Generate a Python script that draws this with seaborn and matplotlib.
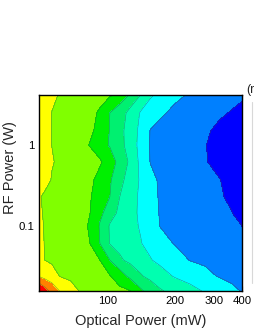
import numpy as np
import matplotlib
matplotlib.use("Agg")
import matplotlib.pyplot as plt
import seaborn as sns
from matplotlib.lines import Line2D
from matplotlib.ticker import FixedLocator, FixedFormatter, NullFormatter

# ---- data ----
optical_power_mw = [49, 52, 56, 61, 68, 75, 83, 92, 102, 113, 126, 140, 155, 171,
                    200, 234, 273, 318, 360, 400]
rf_power_w = [4.15, 2.5, 1.5, 1.0, 0.62, 0.37, 0.23, 0.145, 0.1, 0.061, 0.038, 0.024, 0.0158]

row_415 = [2.50, 2.67, 2.87, 3.05, 3.22, 3.38, 3.54, 3.70, 3.87, 4.17, 5.15, 6.00, 6.85, 7.28, 7.78, 8.10, 8.27, 8.44, 8.58, 8.70]
row_250 = [2.40, 2.68, 3.01, 3.18, 3.39, 3.60, 3.81, 4.09, 5.00, 5.60, 6.28, 7.07, 7.47, 7.87, 8.18, 8.40, 8.62, 8.85, 9.07, 9.40]
row_150 = [2.40, 2.71, 3.03, 3.20, 3.42, 3.64, 3.85, 4.26, 5.05, 5.73, 6.45, 7.25, 8.03, 8.18, 8.42, 8.66, 8.89, 9.19, 9.47, 9.70]
row_100 = [2.40, 2.68, 3.01, 3.22, 3.49, 3.75, 4.04, 4.56, 5.10, 5.70, 6.43, 7.33, 8.06, 8.22, 8.47, 8.72, 8.97, 9.30, 9.57, 9.80]
row_062 = [2.40, 2.65, 2.95, 3.13, 3.32, 3.51, 3.70, 3.89, 4.44, 5.38, 6.19, 7.25, 8.03, 8.20, 8.44, 8.69, 8.94, 9.28, 9.56, 9.80]
row_037 = [2.50, 2.77, 3.04, 3.21, 3.43, 3.64, 3.86, 4.22, 4.89, 5.72, 6.45, 7.11, 7.78, 8.10, 8.32, 8.54, 8.76, 8.98, 9.30, 9.60]
row_023 = [2.95, 3.09, 3.23, 3.38, 3.56, 3.75, 3.94, 4.40, 5.00, 6.00, 6.60, 7.18, 7.73, 8.07, 8.28, 8.49, 8.70, 8.91, 9.17, 9.50]
row_0145 = [2.90, 3.07, 3.21, 3.37, 3.58, 3.78, 3.99, 4.74, 5.57, 6.23, 6.69, 7.17, 7.67, 8.04, 8.24, 8.43, 8.63, 8.83, 8.98, 9.30]
row_010 = [2.85, 3.04, 3.19, 3.36, 3.58, 3.80, 4.07, 5.09, 6.09, 6.41, 6.73, 7.08, 7.56, 8.01, 8.19, 8.37, 8.55, 8.73, 8.88, 9.00]
row_0061 = [2.85, 3.02, 3.17, 3.34, 3.56, 3.78, 4.00, 5.00, 6.05, 6.35, 6.65, 6.95, 7.31, 7.69, 8.05, 8.18, 8.30, 8.42, 8.52, 8.60]
row_0038 = [2.80, 3.00, 3.13, 3.27, 3.45, 3.64, 3.82, 4.00, 5.00, 5.85, 6.28, 6.61, 6.94, 7.24, 7.67, 8.03, 8.17, 8.30, 8.41, 8.50]
row_0024 = [2.05, 2.35, 2.69, 3.03, 3.21, 3.39, 3.58, 3.76, 3.94, 4.53, 5.25, 5.89, 6.28, 6.61, 7.08, 7.42, 7.77, 8.07, 8.25, 8.40]
row_00158 = [0.00, 0.60, 1.30, 2.06, 2.62, 3.06, 3.24, 3.42, 3.61, 3.79, 3.97, 4.83, 5.40, 5.89, 6.32, 6.70, 7.09, 7.47, 7.79, 8.05]

level_values = [0, 1, 2, 3, 4, 5, 6, 7, 8, 9, 10]
band_colors = ["#FF0000", "#FF8000", "#FFFF00", "#80FF00", "#00F000",
               "#00F070", "#00FFB0", "#00FFFF", "#0080FF", "#0000FF"]

x_ticks = [100, 200, 300, 400]
x_tick_labels = ["100", "200", "300", "400"]
y_ticks = [0.1, 1]
y_tick_labels = ["0.1", "1"]

# ---- figure ----
sns.set_style("ticks")
plt.rcParams["font.family"] = ["Liberation Sans", "DejaVu Sans"]

Z = np.array([row_415, row_250, row_150, row_100, row_062, row_037, row_023,
              row_0145, row_010, row_0061, row_0038, row_0024, row_00158])
X, Y = np.meshgrid(optical_power_mw, rf_power_w)

fig = plt.figure(figsize=(2.55, 3.30), dpi=100)
ax = fig.add_axes([39 / 255, 1 - 291 / 330, 203 / 255, 196 / 330])

ax.contourf(X, Y, Z, levels=level_values, colors=band_colors)
ax.contour(X, Y, Z, levels=level_values[1:-1], colors="#3a5a3a", linewidths=0.35, alpha=0.7)

ax.set_xscale("log")
ax.set_yscale("log")
ax.set_xlim(49, 400)
ax.set_ylim(0.0158, 4.15)

ax.xaxis.set_major_locator(FixedLocator(x_ticks))
ax.xaxis.set_major_formatter(FixedFormatter(x_tick_labels))
minor_x = [v for v in range(50, 401, 10) if v not in x_ticks]
ax.xaxis.set_minor_locator(FixedLocator(minor_x))
ax.xaxis.set_minor_formatter(NullFormatter())
ax.yaxis.set_major_locator(FixedLocator(y_ticks))
ax.yaxis.set_major_formatter(FixedFormatter(y_tick_labels))
minor_y = [m * 10.0 ** e for e in (-2, -1, 0) for m in range(2, 10)]
ax.yaxis.set_minor_locator(FixedLocator([v for v in minor_y if 0.0158 <= v <= 4.15]))
ax.yaxis.set_minor_formatter(NullFormatter())

ax.tick_params(which="both", direction="in", top=True, right=True, colors="black",
               labelsize=8.2, pad=3.5)
ax.tick_params(which="major", length=3.5, width=0.8)
ax.tick_params(which="minor", length=2, width=0.6)
for s in ax.spines.values():
    s.set_color("black")
    s.set_linewidth(1.0)

ax.set_xlabel("Optical Power (mW)", fontsize=10.5, labelpad=6)
ax.set_ylabel("RF Power (W)", fontsize=10.5)
ax.yaxis.set_label_coords(-0.108, 0.63)

fig.text(246 / 255, 1 - 90 / 330, "(r", fontsize=9, va="center", ha="left")
fig.add_artist(Line2D([252.5 / 255, 252.5 / 255], [1 - 283 / 330, 1 - 102 / 330],
                      color="#d8d8d8", linewidth=0.8))

fig.savefig("out.png", dpi=100)
